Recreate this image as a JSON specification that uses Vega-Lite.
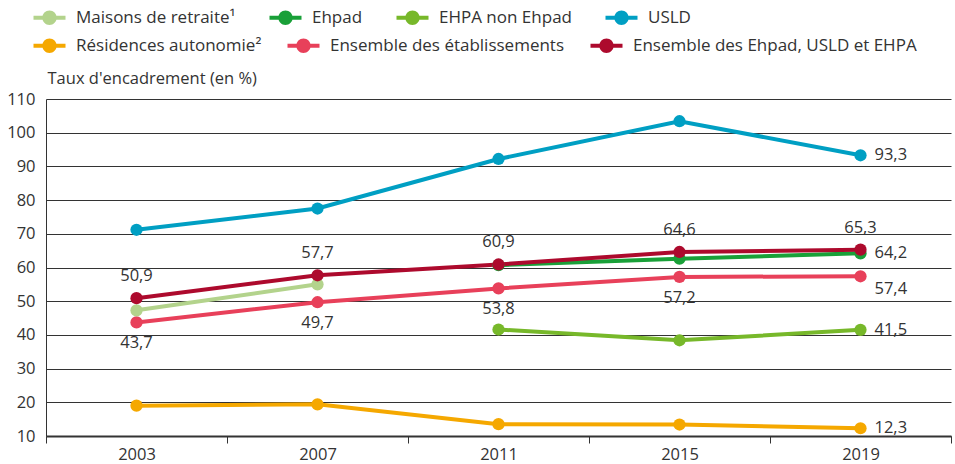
{
  "$schema": "https://vega.github.io/schema/vega-lite/v6.json",
  "width": 905,
  "height": 337,
  "autosize": "none",
  "padding": {"left": 46, "top": 99, "right": 4, "bottom": 28},
  "config": {
    "font": "Open Sans",
    "view": {"stroke": null},
    "locale": {"number": {"decimal": ",", "thousands": " ", "grouping": [3], "currency": ["", " €"]}}
  },
  "data": {
    "values": [
      {"year": "2003", "series": "Résidences autonomie²", "value": 19.0},
      {"year": "2007", "series": "Résidences autonomie²", "value": 19.4},
      {"year": "2011", "series": "Résidences autonomie²", "value": 13.5},
      {"year": "2015", "series": "Résidences autonomie²", "value": 13.4},
      {"year": "2019", "series": "Résidences autonomie²", "value": 12.3},
      {"year": "2011", "series": "EHPA non Ehpad", "value": 41.6},
      {"year": "2015", "series": "EHPA non Ehpad", "value": 38.4},
      {"year": "2019", "series": "EHPA non Ehpad", "value": 41.5},
      {"year": "2003", "series": "USLD", "value": 71.2},
      {"year": "2007", "series": "USLD", "value": 77.5},
      {"year": "2011", "series": "USLD", "value": 92.2},
      {"year": "2015", "series": "USLD", "value": 103.4},
      {"year": "2019", "series": "USLD", "value": 93.3},
      {"year": "2003", "series": "Ensemble des établissements", "value": 43.7},
      {"year": "2007", "series": "Ensemble des établissements", "value": 49.7},
      {"year": "2011", "series": "Ensemble des établissements", "value": 53.8},
      {"year": "2015", "series": "Ensemble des établissements", "value": 57.2},
      {"year": "2019", "series": "Ensemble des établissements", "value": 57.4},
      {"year": "2003", "series": "Maisons de retraite¹", "value": 47.3},
      {"year": "2007", "series": "Maisons de retraite¹", "value": 55.0},
      {"year": "2011", "series": "Ehpad", "value": 60.7},
      {"year": "2015", "series": "Ehpad", "value": 62.6},
      {"year": "2019", "series": "Ehpad", "value": 64.2},
      {"year": "2003", "series": "Ensemble des Ehpad, USLD et EHPA", "value": 50.9},
      {"year": "2007", "series": "Ensemble des Ehpad, USLD et EHPA", "value": 57.7},
      {"year": "2011", "series": "Ensemble des Ehpad, USLD et EHPA", "value": 60.9},
      {"year": "2015", "series": "Ensemble des Ehpad, USLD et EHPA", "value": 64.6},
      {"year": "2019", "series": "Ensemble des Ehpad, USLD et EHPA", "value": 65.3}
    ]
  },
  "encoding": {
    "x": {
      "field": "year",
      "type": "ordinal",
      "scale": {"type": "band", "paddingInner": 0, "paddingOuter": 0},
      "axis": {
        "title": null,
        "grid": false,
        "tickBand": "extent",
        "domainColor": "#333333",
        "domainWidth": 2,
        "tickColor": "#333333",
        "tickWidth": 1,
        "tickSize": 7,
        "labelPadding": 3,
        "labelFontSize": 16.5,
        "labelColor": "#333333",
        "labelAngle": 0
      }
    },
    "y": {
      "field": "value",
      "type": "quantitative",
      "scale": {"domain": [10, 110], "nice": false, "zero": false},
      "axis": {
        "values": [10, 20, 30, 40, 50, 60, 70, 80, 90, 100, 110],
        "title": "Taux d'encadrement (en %)",
        "titleAngle": 0,
        "titleAlign": "left",
        "titleBaseline": "alphabetic",
        "titleX": 1,
        "titleY": -16,
        "titleFontSize": 16.5,
        "titleFontWeight": "normal",
        "titleColor": "#333333",
        "ticks": false,
        "labelPadding": 11,
        "labelFontSize": 16.5,
        "labelColor": "#333333",
        "domainColor": "#333333",
        "domainWidth": 1,
        "gridColor": "#333333",
        "gridWidth": 1
      }
    }
  },
  "layer": [
    {
      "mark": {"type": "line", "strokeWidth": 4},
      "encoding": {
        "stroke": {
          "field": "series",
          "type": "nominal",
          "scale": {
            "domain": ["Maisons de retraite¹", "Ehpad", "EHPA non Ehpad", "USLD", "Résidences autonomie²", "Ensemble des établissements", "Ensemble des Ehpad, USLD et EHPA"],
            "range": ["#b3d38c", "#19a038", "#77b82a", "#009fc3", "#f5a800", "#e8405a", "#ad0a2d"]
          },
          "legend": {
            "title": null,
            "values": ["Maisons de retraite¹", "Ehpad", "EHPA non Ehpad", "USLD"],
            "orient": "none",
            "legendX": -5,
            "legendY": -90,
            "direction": "horizontal",
            "columnPadding": 33,
            "padding": 0,
            "symbolType": "M-2,-0.25H2V0.25H-2Z M0.9,0A0.9,0.9 0 1,1 -0.9,0A0.9,0.9 0 1,1 0.9,0Z",
            "symbolSize": 256,
            "symbolStrokeWidth": 0,
            "symbolOffset": 0,
            "labelOffset": 18,
            "labelLimit": 0,
            "labelFontSize": 17,
            "labelColor": "#333333",
            "encode": {
              "symbols": {"update": {"fill": {"scale": "stroke", "field": "value"}, "strokeWidth": {"value": 0}, "opacity": {"value": 1}}}
            }
          }
        }
      }
    },
    {
      "mark": {"type": "point", "filled": true, "size": 150, "opacity": 1},
      "encoding": {
        "fill": {
          "field": "series",
          "type": "nominal",
          "scale": {
            "domain": ["Résidences autonomie²", "Ensemble des établissements", "Ensemble des Ehpad, USLD et EHPA", "Maisons de retraite¹", "Ehpad", "EHPA non Ehpad", "USLD"],
            "range": ["#f5a800", "#e8405a", "#ad0a2d", "#b3d38c", "#19a038", "#77b82a", "#009fc3"]
          },
          "legend": {
            "title": null,
            "values": ["Résidences autonomie²", "Ensemble des établissements", "Ensemble des Ehpad, USLD et EHPA"],
            "orient": "none",
            "legendX": -5,
            "legendY": -62,
            "direction": "horizontal",
            "columnPadding": 25,
            "padding": 0,
            "symbolType": "M-2,-0.25H2V0.25H-2Z M0.9,0A0.9,0.9 0 1,1 -0.9,0A0.9,0.9 0 1,1 0.9,0Z",
            "symbolSize": 256,
            "symbolStrokeWidth": 0,
            "symbolOffset": 0,
            "labelOffset": 18,
            "labelLimit": 0,
            "labelFontSize": 17,
            "labelColor": "#333333",
            "encode": {
              "symbols": {"update": {"fill": {"scale": "fill", "field": "value"}, "strokeWidth": {"value": 0}, "opacity": {"value": 1}}}
            }
          }
        }
      }
    },
    {
      "transform": [{"filter": "datum.series === 'Ensemble des Ehpad, USLD et EHPA'"}],
      "mark": {"type": "text", "dy": -22, "fontSize": 16.5, "color": "#333333"},
      "encoding": {"text": {"field": "value", "type": "quantitative", "format": ".1f"}}
    },
    {
      "transform": [{"filter": "datum.series === 'Ensemble des établissements' && datum.year !== '2019'"}],
      "mark": {"type": "text", "dy": 21, "fontSize": 16.5, "color": "#333333"},
      "encoding": {"text": {"field": "value", "type": "quantitative", "format": ".1f"}}
    },
    {
      "transform": [{"filter": "datum.year === '2019' && (datum.series === 'USLD' || datum.series === 'Ehpad' || datum.series === 'EHPA non Ehpad' || datum.series === 'Résidences autonomie²')"}],
      "mark": {"type": "text", "dx": 14, "dy": 0, "align": "left", "fontSize": 16.5, "color": "#333333"},
      "encoding": {"text": {"field": "value", "type": "quantitative", "format": ".1f"}}
    },
    {
      "transform": [{"filter": "datum.year === '2019' && datum.series === 'Ensemble des établissements'"}],
      "mark": {"type": "text", "dx": 14, "dy": 13, "align": "left", "fontSize": 16.5, "color": "#333333"},
      "encoding": {"text": {"field": "value", "type": "quantitative", "format": ".1f"}}
    }
  ]
}
